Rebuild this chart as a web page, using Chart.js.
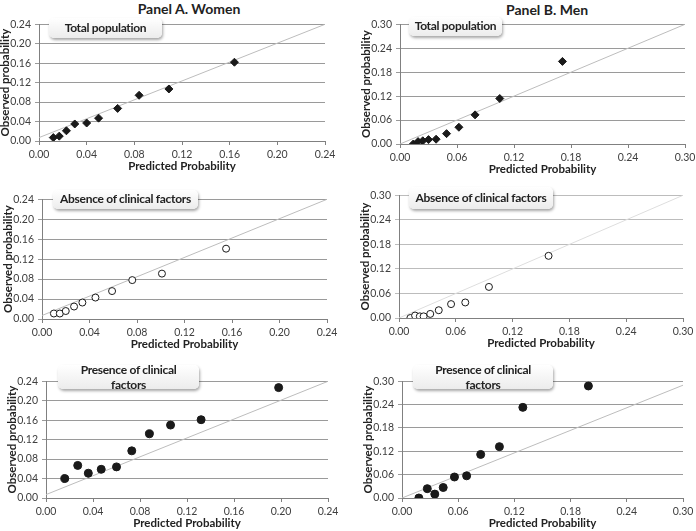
<!DOCTYPE html>
<html>
<head>
<meta charset="utf-8">
<script src="https://cdn.jsdelivr.net/npm/chart.js@4.4.1/dist/chart.umd.min.js"></script>
<style>
  body { margin: 0; width: 696px; height: 531px; background: #fff; position: relative; overflow: hidden; font-family: Lato, "Open Sans", sans-serif; }
  canvas.panel { position: absolute; }
  .head { position: absolute; font-weight: bold; font-size: 14px; color: #222; white-space: nowrap; transform: translate(-50%, -50%); }
  .box { position: absolute; background: linear-gradient(#ffffff, #ececec); border-radius: 5px;
         box-shadow: 1px 2px 3px rgba(0,0,0,0.35); font-weight: bold; font-size: 12px; letter-spacing: -0.3px;
         color: #222; text-align: center; white-space: nowrap; z-index: 2; }
</style>
</head>
<body>
<div class="head" style="left:189px; top:8px;">Panel A. Women</div>
<div class="head" style="left:547px; top:9px;">Panel B. Men</div>

<canvas class="panel" id="a1"></canvas>
<canvas class="panel" id="b1"></canvas>
<canvas class="panel" id="a2"></canvas>
<canvas class="panel" id="b2"></canvas>
<canvas class="panel" id="a3"></canvas>
<canvas class="panel" id="b3"></canvas>

<div class="box" style="left:49px; top:18px; width:113px; height:20px; line-height:19px;">Total population</div>
<div class="box" style="left:409px; top:17px; width:93px; height:19px; line-height:18px;">Total population</div>
<div class="box" style="left:53px; top:190px; width:145px; height:19px; line-height:18px;">Absence of clinical factors</div>
<div class="box" style="left:409px; top:187px; width:144px; height:22px; line-height:21px;">Absence of clinical factors</div>
<div class="box" style="left:58px; top:365px; width:141px; height:24px; line-height:15px;"><div style="margin-top:-3px;">Presence of clinical<br>factors</div></div>
<div class="box" style="left:413px; top:365px; width:140px; height:24px; line-height:15px;"><div style="margin-top:-3px;">Presence of clinical<br>factors</div></div>

<script>
// values (predicted vs observed probability)
const womenTotalX = [0.012, 0.017, 0.023, 0.030, 0.040, 0.050, 0.066, 0.084, 0.109, 0.164];
const womenTotalY = [0.007, 0.010, 0.021, 0.035, 0.037, 0.047, 0.067, 0.094, 0.107, 0.162];
const menTotalX = [0.014, 0.019, 0.024, 0.030, 0.038, 0.049, 0.062, 0.079, 0.105, 0.171];
const menTotalY = [0.000, 0.006, 0.008, 0.011, 0.012, 0.026, 0.042, 0.073, 0.114, 0.207];

const womenAbsX = [0.010, 0.015, 0.020, 0.027, 0.034, 0.045, 0.059, 0.076, 0.101, 0.155];
const womenAbsY = [0.011, 0.011, 0.016, 0.025, 0.033, 0.043, 0.056, 0.078, 0.091, 0.141];
const menAbsX = [0.012, 0.017, 0.022, 0.026, 0.033, 0.042, 0.055, 0.070, 0.095, 0.158];
const menAbsY = [0.000, 0.006, 0.004, 0.004, 0.010, 0.019, 0.034, 0.038, 0.076, 0.152];

const womenPresX = [0.016, 0.027, 0.036, 0.047, 0.060, 0.073, 0.088, 0.106, 0.132, 0.198];
const womenPresY = [0.040, 0.067, 0.051, 0.059, 0.064, 0.097, 0.132, 0.150, 0.161, 0.227];
const menPresX = [0.018, 0.027, 0.035, 0.044, 0.056, 0.069, 0.084, 0.104, 0.129, 0.199];
const menPresY = [0.000, 0.024, 0.010, 0.027, 0.054, 0.057, 0.112, 0.132, 0.233, 0.288];

// axis ranges and the reference diagonal
const womenAxisMax = 0.24, womenStep = 0.04;
const menAxisMax = 0.30, menStep = 0.06;
const womenDiagonal = [[0, 0.007], [0.24, 0.24]];
const menDiagonal = [[0, 0], [0.30, 0.30]];
const menPresDiagonal = [[0, 0], [0.30, 0.29]];

const FONT = 'Lato, "Open Sans", sans-serif';
const Y_W = 42, X_H = 34, PAD_T = 10, PAD_R = 16;

function toPoints(xs, ys) {
    return xs.map((x, i) => ({ x: x, y: ys[i] }));
}

function makePanel(id, area, xs, ys, diag, axisMax, step, marker, gridColor, diagColor) {
    const cv = document.getElementById(id);
    const w = area.r - area.l + Y_W + PAD_R;
    const h = area.b - area.t + PAD_T + X_H;
    cv.style.left = (area.l - Y_W) + 'px';
    cv.style.top = (area.t - PAD_T) + 'px';
    cv.style.width = w + 'px';
    cv.style.height = h + 'px';
    cv.width = w;
    cv.height = h;

    const fmt = v => Number(v).toFixed(2);
    return new Chart(cv.getContext('2d'), {
        type: 'scatter',
        data: {
            datasets: [{
                data: toPoints(xs, ys),
                pointStyle: marker.style,
                pointRadius: marker.radius,
                backgroundColor: marker.fill,
                borderColor: '#1a1a1a',
                borderWidth: marker.border,
                order: 1
            }, {
                data: diag.map(p => ({ x: p[0], y: p[1] })),
                showLine: true,
                pointRadius: 0,
                borderColor: diagColor,
                borderWidth: 1,
                order: 2
            }]
        },
        options: {
            responsive: false,
            animation: false,
            layout: { padding: { top: PAD_T, right: PAD_R, left: 0, bottom: 0 } },
            plugins: { legend: { display: false }, tooltip: { enabled: false } },
            scales: {
                x: {
                    min: 0, max: axisMax,
                    afterFit: s => { s.height = X_H; },
                    ticks: { stepSize: step, callback: fmt, color: '#404040', font: { family: FONT, size: 10.5 }, padding: 3, maxRotation: 0 },
                    grid: { drawOnChartArea: false, drawTicks: true, tickLength: 4, color: '#808080' },
                    border: { color: '#808080' },
                    title: { display: true, text: 'Predicted Probability', color: '#222', font: { family: FONT, size: 11.5, weight: 'bold' }, padding: 2 }
                },
                y: {
                    min: 0, max: axisMax,
                    afterFit: s => { s.width = Y_W; },
                    ticks: { stepSize: step, callback: fmt, color: '#404040', font: { family: FONT, size: 10.5 }, padding: 4 },
                    grid: { color: gridColor, tickLength: 4 },
                    border: { color: '#808080' },
                    title: { display: true, text: 'Observed probability', color: '#222', font: { family: FONT, size: 11.5, weight: 'bold' }, padding: 1 }
                }
            }
        }
    });
}

const diamond = { style: 'rectRot', radius: 4, fill: '#1a1a1a', border: 1 };
const openDot = { style: 'circle', radius: 3.5, fill: '#ffffff', border: 1 };
const solidDot = { style: 'circle', radius: 4, fill: '#1a1a1a', border: 1 };

makePanel('a1', { l: 39, r: 325, t: 24, b: 141 }, womenTotalX, womenTotalY, womenDiagonal, womenAxisMax, womenStep, diamond, '#9a9a9a', '#bdbdbd');
makePanel('b1', { l: 400, r: 685, t: 24, b: 144 }, menTotalX, menTotalY, menDiagonal, menAxisMax, menStep, diamond, '#9a9a9a', '#bdbdbd');
makePanel('a2', { l: 42, r: 327, t: 199, b: 319 }, womenAbsX, womenAbsY, womenDiagonal, womenAxisMax, womenStep, openDot, '#9a9a9a', '#bdbdbd');
makePanel('b2', { l: 399, r: 683, t: 195, b: 318 }, menAbsX, menAbsY, menDiagonal, menAxisMax, menStep, openDot, '#bcbcbc', '#dedede');
makePanel('a3', { l: 46, r: 328, t: 381, b: 498 }, womenPresX, womenPresY, womenDiagonal, womenAxisMax, womenStep, solidDot, '#9a9a9a', '#bdbdbd');
makePanel('b3', { l: 402, r: 683, t: 381, b: 498 }, menPresX, menPresY, menPresDiagonal, menAxisMax, menStep, solidDot, '#9a9a9a', '#bdbdbd');
</script>
</body>
</html>
